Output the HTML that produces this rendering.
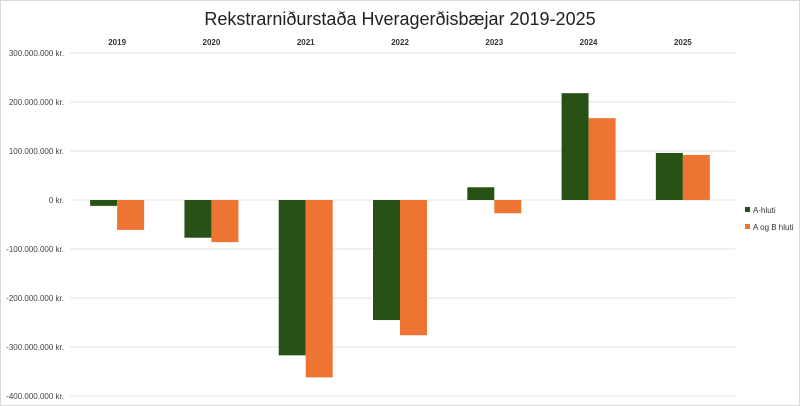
<!DOCTYPE html>
<html><head><meta charset="utf-8"><style>
body{margin:0;background:#fff;}
svg{display:block;font-family:"Liberation Sans",sans-serif;}
</style></head><body>
<svg id="c" width="800" height="406">
<rect x="0.5" y="0.5" width="799" height="405" fill="#fff" stroke="#d9d9d9"/>
<text x="400" y="25" text-anchor="middle" font-size="18" fill="#222">Rekstrarniðurstaða Hveragerðisbæjar 2019-2025</text>
<g id="grid"></g><g id="bars"></g><g id="xl"></g>
<rect x="745" y="207" width="5" height="5" fill="#285116"/>
<text x="753" y="213" font-size="8" fill="#333">A-hluti</text>
<rect x="745" y="224" width="5" height="5" fill="#ed7433"/>
<text x="753" y="230" font-size="8" fill="#333">A og B hluti</text>
</svg>
<script>
const categories=["2019","2020","2021","2022","2023","2024","2025"];
const seriesA=[-12,-77,-317,-245,26,218,96];
const seriesAB=[-61,-86,-362,-276,-27,167,92];
const ticks=[300,200,100,0,-100,-200,-300,-400];
const tickLabels=["300.000.000 kr.","200.000.000 kr.","100.000.000 kr.","0 kr.","-100.000.000 kr.","-200.000.000 kr.","-300.000.000 kr.","-400.000.000 kr."];
const NS="http://www.w3.org/2000/svg";
const x0=70,x1=730,gx1=735,y0=200,ppu=0.49;
const cw=(x1-x0)/categories.length;
const y=v=>y0-v*ppu;
function mk(t,a,p){const e=document.createElementNS(NS,t);for(const k in a)e.setAttribute(k,a[k]);p.appendChild(e);return e;}
const g=document.getElementById('grid');
ticks.forEach((t,i)=>{
 const l=mk('line',{x1:x0,x2:gx1,y1:y(t),y2:y(t),stroke:'#e3e3e3','stroke-width':1},g);
 
 
 const tx=mk('text',{x:64,y:y(t)+3,'text-anchor':'end','font-size':8,fill:'#444'},g);
 tx.textContent=tickLabels[i];
 
 
});
const b=document.getElementById('bars'),xl=document.getElementById('xl');
const bw=27;
categories.forEach((c,i)=>{
 const cx=x0+cw*(i+0.5);
 [[seriesA[i],'#285116',cx-bw,'bar-a-'],[seriesAB[i],'#ed7433',cx,'bar-ab-']].forEach(([v,col,bx,n])=>{
  const r=mk('rect',{x:bx,y:Math.min(y(v),y0),width:bw,height:Math.abs(y(v)-y0),fill:col},b);
  
  
 });
 const t=mk('text',{x:cx,y:45,'text-anchor':'middle','font-size':8,'font-weight':'bold',fill:'#333'},xl);
 t.textContent=c;
 
 
});
</script>
</body></html>
